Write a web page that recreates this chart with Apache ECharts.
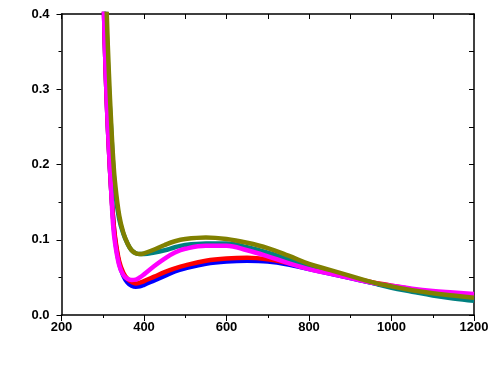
<!DOCTYPE html>
<html><head><meta charset="utf-8">
<script src="https://cdn.jsdelivr.net/npm/echarts@6/dist/echarts.min.js"></script>
<style>html,body{margin:0;padding:0;background:#fff}#c{width:495px;height:382px}</style>
</head><body><div id="c"></div>
<script>
var wavelengths = [300,305,310,315,320,325,330,340,350,360,370,380,390,400,425,450,475,500,550,600,650,700,750,800,850,900,950,1000,1050,1100,1150,1200];
var blue    = [0.48,0.36,0.28,0.22,0.17,0.13,0.100,0.068,0.052,0.043,0.039,0.0375,0.038,0.040,0.046,0.052,0.058,0.062,0.068,0.071,0.072,0.071,0.067,0.061,0.055,0.049,0.043,0.038,0.033,0.029,0.026,0.023];
var red     = [0.48,0.36,0.28,0.22,0.17,0.13,0.103,0.071,0.056,0.048,0.044,0.042,0.043,0.045,0.051,0.057,0.062,0.066,0.072,0.075,0.076,0.074,0.069,0.063,0.056,0.050,0.044,0.039,0.034,0.030,0.027,0.024];
var magenta = [0.47,0.36,0.28,0.22,0.17,0.12,0.095,0.066,0.053,0.048,0.0465,0.047,0.050,0.054,0.065,0.075,0.083,0.088,0.092,0.092,0.086,0.078,0.069,0.061,0.055,0.049,0.043,0.039,0.035,0.032,0.030,0.028];
var teal    = [0.55,0.45,0.37,0.30,0.25,0.20,0.165,0.127,0.108,0.095,0.086,0.082,0.081,0.081,0.083,0.086,0.090,0.093,0.095,0.095,0.090,0.083,0.074,0.065,0.057,0.050,0.043,0.036,0.031,0.026,0.022,0.019];
var olive   = [0.60,0.49,0.395,0.32,0.26,0.21,0.175,0.132,0.109,0.095,0.086,0.082,0.081,0.082,0.087,0.093,0.098,0.101,0.103,0.101,0.096,0.089,0.079,0.068,0.060,0.052,0.044,0.038,0.033,0.029,0.026,0.023];
var xTicks = [200,400,600,800,1000,1200];
var yTicks = ['0.0','0.1','0.2','0.3','0.4'];

function pairs(ys){ return wavelengths.map(function(x,i){return [x, ys[i]];}); }
var seriesDefs = [
  {name:'blue', data: blue, color:'#0000ff'},
  {name:'red', data: red, color:'#ff0000'},
  {name:'teal', data: teal, color:'#008080'},
  {name:'magenta', data: magenta, color:'#ff00ff'},
  {name:'olive', data: olive, color:'#808000'}
];
var lbl = {color:'#000', fontFamily:'Liberation Sans, Arial, sans-serif', fontWeight:'bold', fontSize:13};
var chart = echarts.init(document.getElementById('c'));
chart.setOption({
  animation:false,
  backgroundColor:'#fff',
  grid:{left:61.5, right:21, top:14, bottom:67, containLabel:false},
  xAxis:[{
    type:'value', min:200, max:1200, interval:200, position:'bottom',
    axisLine:{show:true, onZero:false, lineStyle:{color:'#000', width:1.5}},
    axisTick:{show:true, inside:false, length:6, lineStyle:{color:'#000'}},
    minorTick:{show:true, splitNumber:2, length:3, lineStyle:{color:'#000'}},
    splitLine:{show:false},
    axisLabel:Object.assign({margin:6, formatter:function(v){return xTicks.indexOf(v)>=0? String(v):'';}}, lbl)
  },{
    type:'value', min:200, max:1200, interval:100, position:'top',
    axisLine:{show:true, onZero:false, lineStyle:{color:'#000', width:1.5}},
    axisTick:{show:true, inside:true, length:5, lineStyle:{color:'#000'}},
    axisLabel:{show:false}, splitLine:{show:false}
  }],
  yAxis:[{
    type:'value', min:0, max:0.4, interval:0.1, position:'left',
    axisLine:{show:true, onZero:false, lineStyle:{color:'#000', width:1.5}},
    axisTick:{show:true, inside:false, length:5, lineStyle:{color:'#000'}},
    minorTick:{show:true, splitNumber:2, length:3, lineStyle:{color:'#000'}},
    splitLine:{show:false},
    axisLabel:Object.assign({margin:12, formatter:function(v){return yTicks[Math.round(v*10)];}}, lbl)
  },{
    type:'value', min:0, max:0.4, interval:0.05, position:'right',
    axisLine:{show:true, onZero:false, lineStyle:{color:'#000', width:1.5}},
    axisTick:{show:true, inside:true, length:5, lineStyle:{color:'#000'}},
    axisLabel:{show:false}, splitLine:{show:false}
  }],
  series: seriesDefs.map(function(s){
    return {type:'line', name:s.name, data:pairs(s.data), smooth:0.4, showSymbol:false, clip:true,
      lineStyle:{color:s.color, width:4.5}, itemStyle:{color:s.color}, xAxisIndex:0, yAxisIndex:0};
  })
});
</script></body></html>
